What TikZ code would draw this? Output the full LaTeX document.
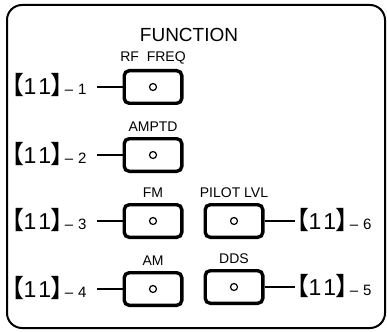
\documentclass[tikz,border=0pt]{standalone}
\usepackage{fontspec}
\setmainfont{Liberation Sans}
\newfontfamily\cjkfont[RawFeature=+palt]{Noto Sans CJK SC}
\usetikzlibrary{positioning}
% reference number such as [11]-1
\newcommand{\refno}[1]{%
    {\cjkfont\fontsize{25}{25}\selectfont 【}%
    {\fontsize{23}{23}\selectfont 1\kern2pt 1}%
    {\cjkfont\fontsize{25}{25}\selectfont 】}\kern1pt
    {\fontsize{15}{15}\selectfont –\kern5pt #1}}

\begin{document}
\begin{tikzpicture}[
    x=1pt, y=-1pt,
    button/.style={draw,line width=3.4pt,rounded corners=5pt,minimum width=57.6pt,minimum height=32.6pt,inner sep=0pt},
    lamp/.style={circle,draw,line width=1.2pt,minimum size=7pt,inner sep=0pt},
    keyname/.style={font=\fontsize{14}{14}\selectfont,inner sep=0pt},
    callout/.style={inner sep=0pt},
    lead/.style={line width=1.3pt}
]
    \useasboundingbox (0,0) rectangle (387,331);
    % Panel frame
    \draw[line width=2pt,rounded corners=15pt] (7,5) rectangle (385,328);
    \node[font=\fontsize{19}{19}\selectfont] (title) at (189,35) {FUNCTION};

    % Buttons, left column
    \node[button] (b1) at (153,87) {};
    \node[button] (b2) at (153,155) {};
    \node[button] (b3) at (153,221) {};
    \node[button] (b4) at (153,289) {};
    % Buttons, right column
    \node[button] (b6) at (234,221) {};
    \node[button] (b5) at (234,287) {};

    % Lamps and key names
    \foreach \b/\name in {b1/RF\ \ FREQ, b2/AMPTD, b3/FM, b4/AM, b6/PILOT\ LVL, b5/DDS}{
        \node[lamp] at (\b) {};
        \node[keyname,above=5pt of \b] {\name};
    }

    % Reference numbers on the left
    \foreach \b/\n in {b1/1, b2/2, b3/3, b4/4}{
        \node[callout,anchor=base west] (c\n) at ([yshift=-8pt]\b.center -| 11,0) {\refno{\n}};
        \draw[lead] (\b.west) -- (\b.west -| 97,0);
    }
    % Reference numbers on the right
    \foreach \b/\n in {b6/6, b5/5}{
        \node[callout,anchor=base west] (c\n) at ([yshift=-8pt]\b.center -| 296,0) {\refno{\n}};
        \draw[lead] (\b.east) -- (\b.east -| 295,0);
    }
\end{tikzpicture}
\end{document}
